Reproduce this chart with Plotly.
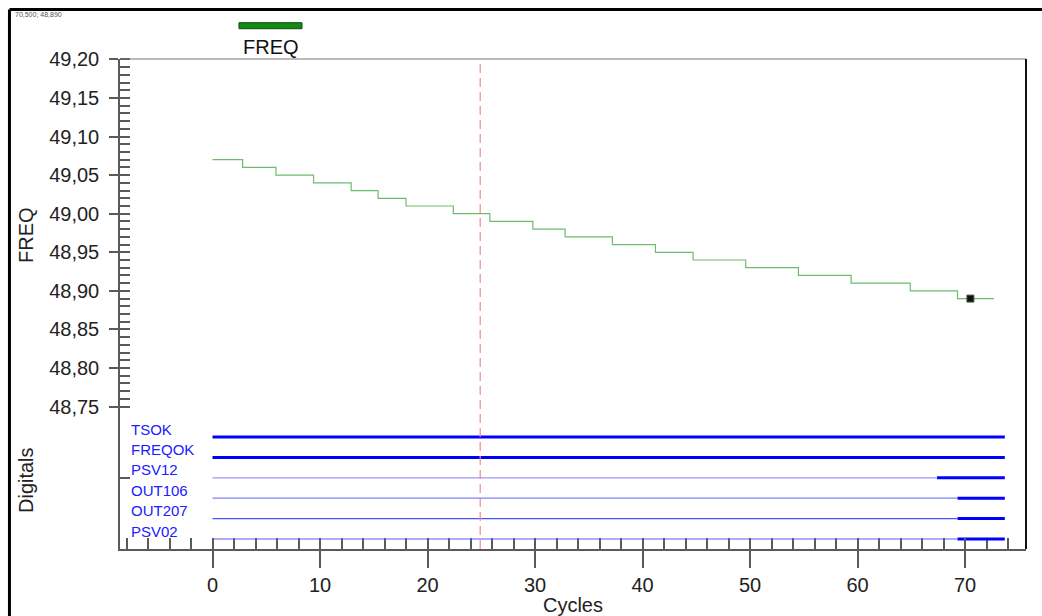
import plotly.graph_objects as go

# --- analog channel: FREQ (step signal) ---
freq_step_x = [0, 2.8, 5.9, 9.4, 12.9, 15.4, 18.0, 22.4, 25.8, 29.8, 32.8,
               37.2, 41.2, 44.7, 49.6, 54.5, 59.4, 64.9, 69.3]
freq_values = [49.07, 49.06, 49.05, 49.04, 49.03, 49.02, 49.01, 49.00, 48.99,
               48.98, 48.97, 48.96, 48.95, 48.94, 48.93, 48.92, 48.91, 48.90,
               48.89]
freq_end_x = 72.7

# --- digital channels (0 until on_at, then 1 until end) ---
digital_names = ["TSOK", "FREQOK", "PSV12", "OUT106", "OUT207", "PSV02"]
digital_on_at = [0.0, 0.0, 67.4, 69.3, 69.3, 69.3]
digital_end_x = 73.7
digital_off_colors = ["#8c8cff", "#8c8cff", "#9a9aff", "#8080ff", "#5050ff", "#5a5aff"]

# --- cursor and selected point ---
cursor_x = 24.9
marker_x = 70.5
marker_y = 48.89

x_ticks = [0, 10, 20, 30, 40, 50, 60, 70]
y_ticks = [48.75, 48.80, 48.85, 48.90, 48.95, 49.00, 49.05, 49.10, 49.15, 49.20]

X_RANGE = [-8.605, 75.67]
Y_RANGE = [48.7443, 49.2005]
ANALOG_DOMAIN = [0.2816, 1.0]
DIGITAL_DOMAIN = [0.0, 0.2816]
D_RANGE = [-0.49, 6.275]

FONT = "Liberation Sans, Arial, sans-serif"
AXIS_GREY = "#5a5a5a"

fig = go.Figure()

# FREQ step line
fig.add_trace(go.Scatter(
    x=freq_step_x + [freq_end_x],
    y=freq_values + [freq_values[-1]],
    mode="lines", line=dict(color="#6dbd6d", width=1.2, shape="hv"),
    xaxis="x", yaxis="y", showlegend=False, hoverinfo="skip"))

# digital traces: thin when 0, thick when 1
n = len(digital_names)
for i, (name, on_at, off_col) in enumerate(zip(digital_names, digital_on_at, digital_off_colors)):
    row = n - 1 - i
    if on_at > 0:
        fig.add_trace(go.Scatter(
            x=[0, on_at], y=[row, row], mode="lines",
            line=dict(color=off_col, width=1.2),
            xaxis="x2", yaxis="y2", showlegend=False, hoverinfo="skip"))
    fig.add_trace(go.Scatter(
        x=[on_at, digital_end_x], y=[row, row], mode="lines",
        line=dict(color="#0000ff", width=3),
        xaxis="x2", yaxis="y2", showlegend=False, hoverinfo="skip"))

# selected sample marker
fig.add_trace(go.Scatter(
    x=[marker_x], y=[marker_y], mode="markers",
    marker=dict(symbol="square", size=7, color="#111111",
                line=dict(color="#555555", width=1)),
    xaxis="x", yaxis="y3", showlegend=False, hoverinfo="skip"))

tick_font = dict(family=FONT, size=20, color="#222222")

fig.update_layout(
    width=1042, height=616,
    margin=dict(l=120, r=16, t=59, b=67, autoexpand=False),
    paper_bgcolor="white", plot_bgcolor="white",
    separators=",.",
    xaxis=dict(
        domain=[0, 1], anchor="y2", range=X_RANGE, automargin=False,
        tickmode="array", tickvals=x_ticks, ticktext=[str(v) for v in x_ticks],
        ticks="outside", ticklen=17, tickwidth=1.5, tickcolor=AXIS_GREY,
        minor=dict(ticks="inside", ticklen=11, dtick=2, tick0=0,
                   tickwidth=1.5, tickcolor=AXIS_GREY),
        showline=True, linecolor=AXIS_GREY, linewidth=1.5,
        showgrid=False, zeroline=False, tickfont=tick_font,
        title=dict(text="Cycles", font=dict(family=FONT, size=20, color="#222222"),
                   standoff=2),
    ),
    xaxis2=dict(
        overlaying="x", anchor="y2", range=X_RANGE, automargin=False,
        tickmode="linear", tick0=0, dtick=10,
        ticks="inside", ticklen=11, tickwidth=1.5, tickcolor=AXIS_GREY,
        showticklabels=False, showline=False, showgrid=False, zeroline=False,
    ),
    yaxis=dict(
        domain=ANALOG_DOMAIN, anchor="x", range=Y_RANGE, automargin=False,
        tickmode="array", tickvals=y_ticks,
        ticktext=[f"{v:.2f}".replace(".", ",") for v in y_ticks],
        ticks="outside", ticklen=9, tickwidth=1.5, tickcolor=AXIS_GREY,
        minor=dict(ticks="inside", ticklen=10, dtick=0.01, tick0=48.75,
                   tickwidth=1.5, tickcolor=AXIS_GREY),
        showline=True, linecolor=AXIS_GREY, linewidth=1.5,
        showgrid=False, zeroline=False, tickfont=tick_font,
        ticklabelstandoff=6,
    ),
    yaxis3=dict(
        overlaying="y", anchor="x", range=Y_RANGE, side="left", automargin=False,
        tickmode="array", tickvals=y_ticks,
        ticks="inside", ticklen=10, tickwidth=1.5, tickcolor=AXIS_GREY,
        showticklabels=False, showline=False, showgrid=False, zeroline=False,
    ),
    yaxis2=dict(
        domain=DIGITAL_DOMAIN, anchor="x", range=D_RANGE, automargin=False,
        tickmode="array", tickvals=[3],
        ticks="inside", ticklen=10, tickwidth=1.5, tickcolor=AXIS_GREY,
        showticklabels=False,
        showline=True, linecolor=AXIS_GREY, linewidth=1.5,
        showgrid=False, zeroline=False,
    ),
)

shapes = []
# plot frame: top and right edges
shapes.append(dict(type="line", xref="paper", yref="paper", x0=0, x1=1, y0=1, y1=1,
                   line=dict(color="#777777", width=1.2)))
shapes.append(dict(type="line", xref="paper", yref="paper", x0=1, x1=1, y0=0, y1=1,
                   line=dict(color="#111111", width=2)))
# outer window border
shapes.append(dict(type="line", xref="paper", yref="paper",
                   x0=-0.122, x1=1.06, y0=1.101, y1=1.101,
                   line=dict(color="black", width=3)))
shapes.append(dict(type="line", xref="paper", yref="paper",
                   x0=-0.122, x1=-0.122, y0=-0.2, y1=1.101,
                   line=dict(color="black", width=3)))
# cursor
shapes.append(dict(type="line", xref="x", yref="paper", x0=cursor_x, x1=cursor_x,
                   y0=0, y1=1, line=dict(color="#f08a8a", width=1.2, dash="9px,5px")))
# legend swatch for FREQ
shapes.append(dict(type="rect", xref="paper", yref="paper",
                   x0=0.1313, x1=0.2009, y0=1.0618, y1=1.0741,
                   fillcolor="#138a13", line=dict(color="#0b4d0b", width=1)))
fig.update_layout(shapes=shapes)

annotations = [
    dict(text="FREQ", xref="paper", yref="paper", x=0.1667, y=1.0245,
         xanchor="center", yanchor="middle", showarrow=False,
         font=dict(family=FONT, size=20, color="#111111")),
    dict(text=f"{marker_x:.3f}; {marker_y:.3f}".replace(".", ","),
         xref="paper", yref="paper", x=-0.1181, y=1.0898,
         xanchor="left", yanchor="middle", showarrow=False,
         font=dict(family=FONT, size=7, color="#555555")),
    dict(text="FREQ", xref="paper", yref="paper", x=0, xshift=-94,
         y=(ANALOG_DOMAIN[0] + ANALOG_DOMAIN[1]) / 2, textangle=-90,
         xanchor="center", yanchor="middle", showarrow=False,
         font=dict(family=FONT, size=20, color="#222222")),
    dict(text="Digitals", xref="paper", yref="paper", x=0, xshift=-94,
         y=(DIGITAL_DOMAIN[0] + DIGITAL_DOMAIN[1]) / 2, textangle=-90,
         xanchor="center", yanchor="middle", showarrow=False,
         font=dict(family=FONT, size=20, color="#222222")),
]
for i, name in enumerate(digital_names):
    annotations.append(dict(
        text=name, xref="paper", yref="y2", x=0, xshift=9, y=n - 1 - i, yshift=8,
        xanchor="left", yanchor="middle", showarrow=False,
        font=dict(family=FONT, size=15, color="#2020ff")))
fig.update_layout(annotations=annotations)

fig.write_html("out.html")
